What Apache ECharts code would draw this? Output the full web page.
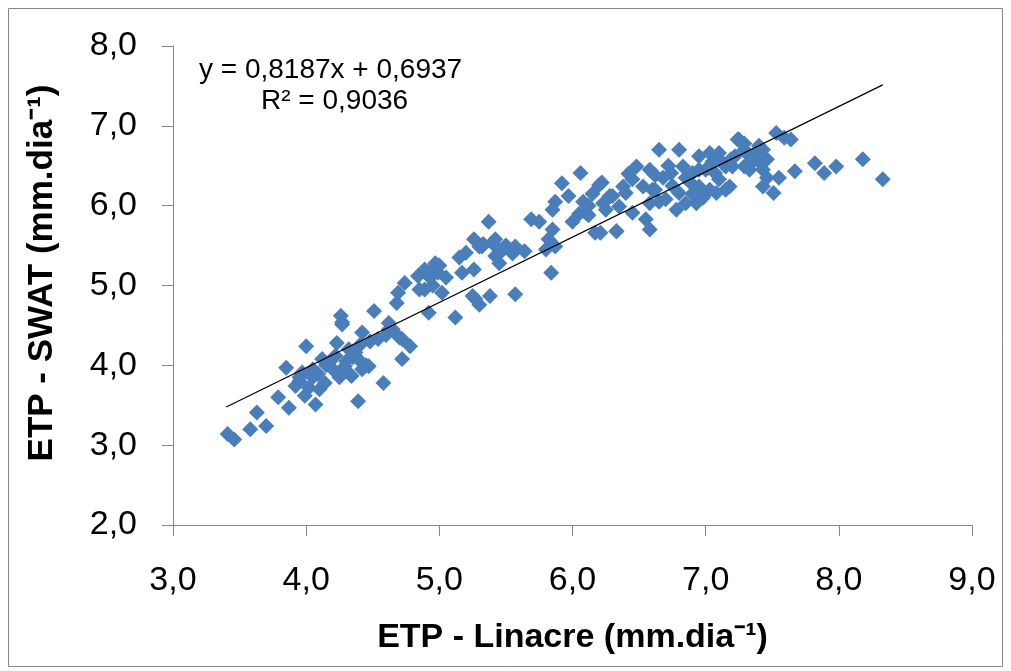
<!DOCTYPE html>
<html>
<head>
<meta charset="utf-8">
<script src="https://cdn.jsdelivr.net/npm/echarts@6/dist/echarts.min.js"></script>
<style>
html,body{margin:0;padding:0;background:#fff;}
#chart{width:1011px;height:671px;}
</style>
</head>
<body>
<div id="chart"></div>
<script>
// ETP - Linacre values (x)
var linacre = [
3.41,3.46,3.58,3.70,3.63,3.79,3.87,3.85,3.92,3.99,4.02,4.07,3.97,4.00,4.09,4.12,4.14,4.23,4.27,4.22,
4.29,4.37,4.39,4.34,4.42,4.26,4.27,4.51,4.42,4.62,4.54,4.72,4.78,4.72,4.32,4.39,4.47,4.29,4.34,4.58,
4.69,4.68,4.74,4.84,4.89,4.97,4.99,4.89,5.02,4.92,5.12,5.17,5.20,5.30,5.25,5.30,5.38,5.42,5.40,5.37,
5.69,5.92,6.06,5.26,5.32,5.42,5.47,5.57,5.64,5.45,5.26,5.82,5.80,5.87,5.85,5.85,5.87,5.97,6.00,6.10,
6.17,6.20,6.23,6.33,6.30,6.38,5.84,5.57,5.27,6.65,6.80,7.25,6.22,6.28,6.48,6.58,6.45,6.53,6.40,6.35,
6.58,6.45,6.55,6.58,6.33,6.21,6.74,6.83,6.95,7.03,7.10,6.90,6.80,6.70,6.85,6.78,6.95,7.03,6.93,7.08,
7.07,7.15,7.19,7.29,7.29,7.38,7.10,7.15,7.24,7.29,7.59,7.64,7.53,7.20,7.33,7.43,7.46,7.33,7.43,7.46,
7.43,7.51,7.67,7.82,7.89,7.98,8.18,8.33,7.18,3.95,4.05,4.18,4.48,4.62,4.95,5.05,5.55,5.75,6.12,6.62,
6.88,7.00,6.68,6.98,7.40,7.55,4.85,5.15,6.05,6.42,
3.95,4.05,4.10,4.20,4.25,4.30,4.15,4.35,4.45,4.40,4.65,4.70,4.60,4.93,4.95,5.00,5.33,5.45,5.50,6.08,
6.15,6.25,6.12,6.60,6.65,6.75,6.85,6.90,6.95,6.62,6.72,7.05,7.12,7.22,7.35,7.40
];
// ETP - SWAT values (y)
var swat = [
3.14,3.07,3.20,3.24,3.41,3.60,3.47,3.97,3.74,3.62,3.72,3.51,3.91,4.24,3.89,4.08,3.78,4.28,4.51,4.12,
3.95,4.16,3.55,3.87,3.95,4.62,4.54,4.68,4.41,4.53,4.33,4.33,4.24,4.08,4.20,4.08,3.99,3.99,3.87,3.78,
4.91,4.78,5.03,5.12,5.20,5.28,5.16,4.95,4.91,4.66,4.60,5.16,5.41,5.49,4.87,4.76,4.87,5.37,5.53,5.80,
5.83,6.28,6.41,5.58,5.49,5.58,5.45,5.49,5.43,5.28,5.20,5.58,5.45,5.49,5.70,5.95,6.05,6.12,5.80,5.91,
5.66,6.26,6.03,5.68,6.12,6.24,5.16,4.89,4.83,6.70,6.70,6.83,6.29,6.12,6.49,6.45,6.33,6.24,6.16,5.99,
6.03,5.91,5.83,5.70,5.68,5.66,6.41,6.49,6.62,6.66,6.66,6.41,6.16,6.08,6.03,5.95,6.24,6.20,6.03,6.16,
6.41,6.49,6.58,6.49,6.70,6.66,6.33,6.20,6.83,6.78,6.85,6.83,6.91,6.49,6.62,6.70,6.58,6.45,6.45,6.35,
6.24,6.16,6.43,6.53,6.41,6.49,6.58,6.33,6.24,3.85,3.95,4.05,4.30,4.45,5.00,5.10,5.40,5.80,6.00,6.20,
6.30,6.45,6.35,6.10,6.55,6.35,4.95,5.35,5.90,6.40,
3.80,3.85,3.70,3.95,3.85,4.05,4.00,4.10,4.00,4.25,4.45,4.35,4.38,5.10,5.22,5.25,5.52,5.40,5.50,6.05,
6.15,5.95,5.88,6.20,6.05,6.25,6.35,6.15,6.45,6.38,6.50,6.55,6.55,6.62,6.55,6.75
];
// Linear trend: y = slope * x + intercept
var trendCoef = [0.8187, 0.6937];
var trendRange = [3.40, 8.33];
var trendText = ['y = 0,8187x + 0,6937', 'R\u00b2 = 0,9036'];
var xTicks = [3, 9, 1];
var yTicks = [2, 8, 1];
var xTitle = 'ETP - Linacre (mm.dia\u207b\u00b9)';
var yTitle = 'ETP - SWAT (mm.dia\u207b\u00b9)';

var pts = linacre.map(function(v, i){ return [v, swat[i]]; });
var trend = trendRange.map(function(x){ return [x, trendCoef[0]*x + trendCoef[1]]; });
function fmt(v){ return v.toFixed(1).replace('.', ','); }

var chart = echarts.init(document.getElementById('chart'), null, {renderer:'canvas'});
var font = '"Liberation Sans", Arial, sans-serif';
chart.setOption({
  animation: false,
  backgroundColor: '#fff',
  grid: {left: 173, right: 39, top: 46, bottom: 146},
  xAxis: {
    type: 'value', min: xTicks[0], max: xTicks[1], interval: xTicks[2],
    name: xTitle, nameLocation: 'middle', nameGap: 96,
    nameTextStyle: {fontFamily: font, fontSize: 34, fontWeight: 'bold', color: '#000'},
    axisLine: {onZero: false, lineStyle: {color: '#868686', width: 1}},
    axisTick: {show: true, length: 11, lineStyle: {color: '#868686'}},
    axisLabel: {formatter: fmt, margin: 39, fontFamily: font, fontSize: 34, color: '#000'},
    splitLine: {show: false}
  },
  yAxis: {
    type: 'value', min: yTicks[0], max: yTicks[1], interval: yTicks[2],
    axisLine: {onZero: false, lineStyle: {color: '#868686', width: 1}},
    axisTick: {show: true, length: 11, lineStyle: {color: '#868686'}},
    axisLabel: {formatter: fmt, margin: 36, fontFamily: font, fontSize: 34, color: '#000'},
    splitLine: {show: false}
  },
  graphic: [
    {type: 'rect', shape: {x: 8.5, y: 8.5, width: 994, height: 658}, style: {fill: 'none', stroke: '#868686', lineWidth: 1}, z: -1},
    {type: 'text', x: 42, y: 273, rotation: Math.PI/2,
     style: {text: yTitle, font: 'bold 35px ' + font, fill: '#000', align: 'center', verticalAlign: 'middle'}},
    {type: 'text', left: 199, top: 56, style: {text: trendText[0], font: '28px ' + font, fill: '#000'}},
    {type: 'text', left: 261, top: 87, style: {text: trendText[1], font: '28px ' + font, fill: '#000'}}
  ],
  series: [
    {type: 'scatter', data: pts, symbol: 'diamond', symbolSize: 16,
     itemStyle: {color: '#4a7ebb', opacity: 1}},
    {type: 'line', data: trend, symbol: 'none', lineStyle: {color: '#000', width: 1.2}, z: 3}
  ]
});
</script>
</body>
</html>
